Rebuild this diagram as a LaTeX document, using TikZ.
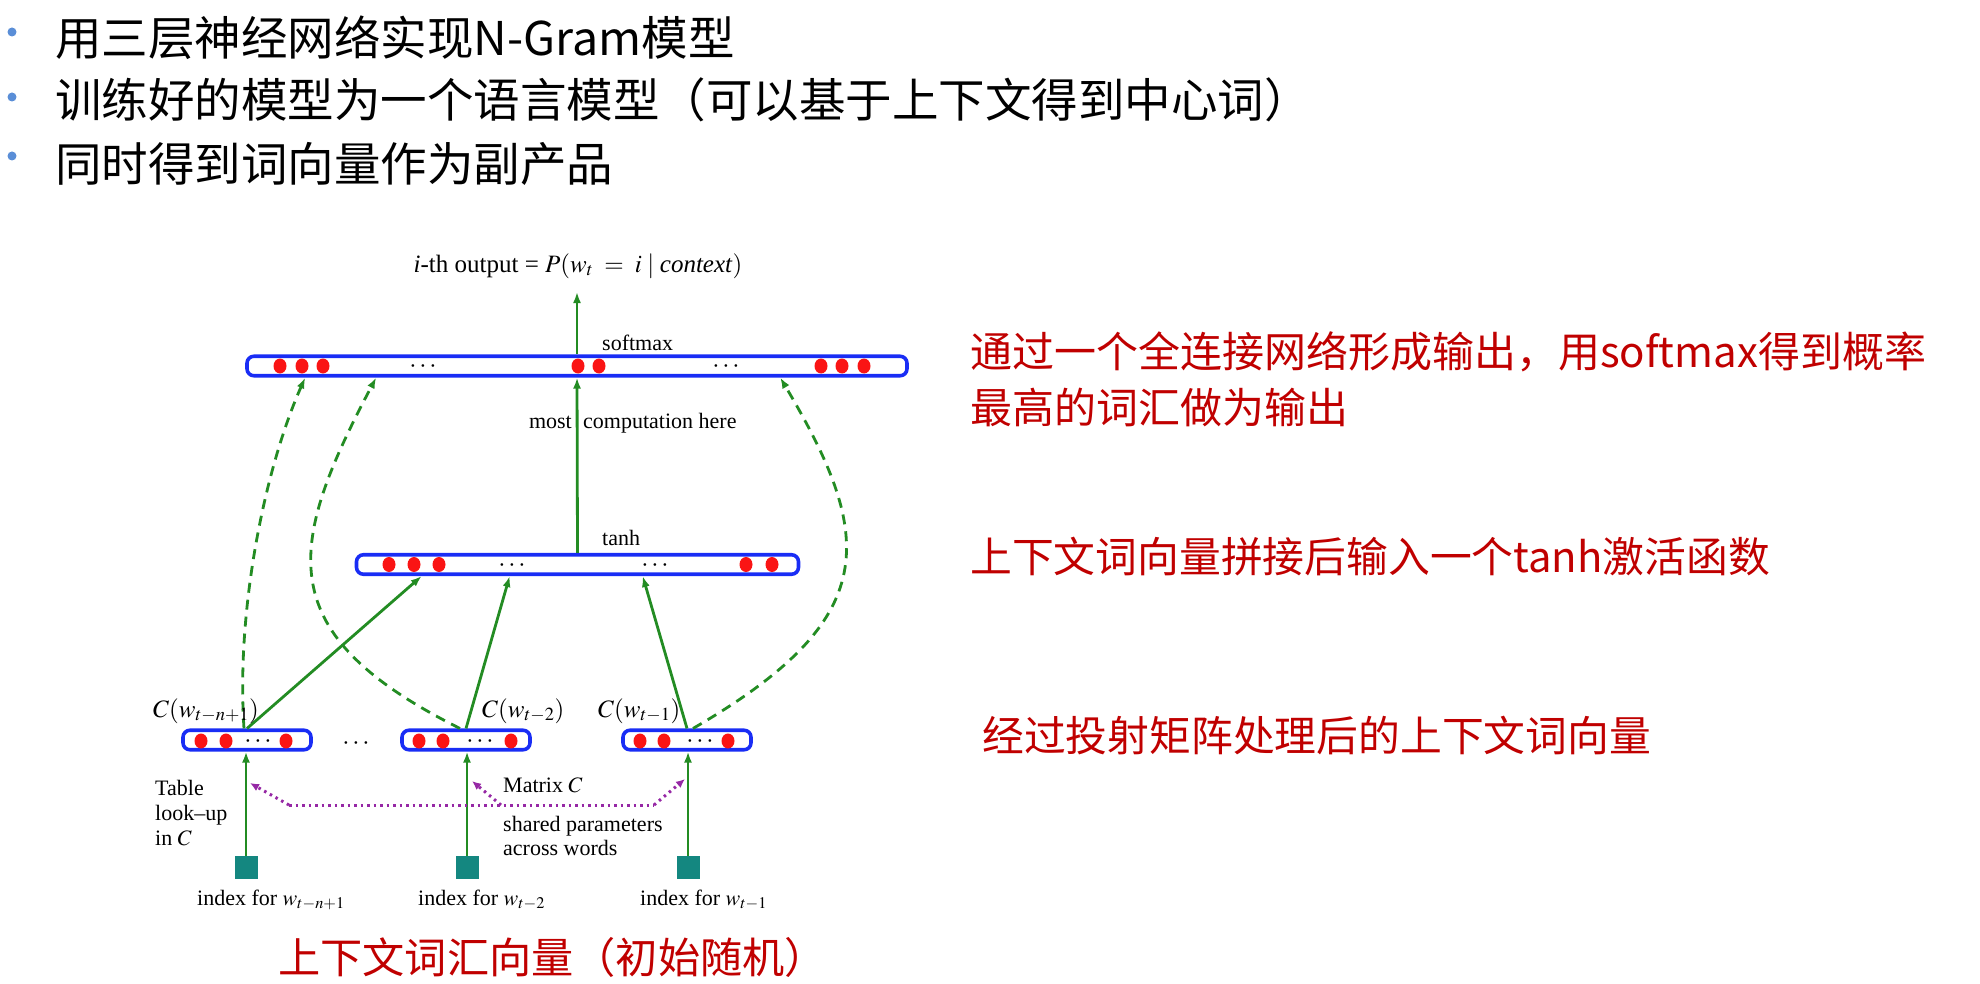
\documentclass[tikz,border=0pt]{standalone}
\usepackage{mathptmx}
\usepackage{fontspec}
\setmainfont{Liberation Serif}
\newfontfamily\cjk{Noto Sans CJK SC}
\usetikzlibrary{arrows.meta,calc}

\definecolor{netblue}{RGB}{25,45,245}
\definecolor{netgreen}{RGB}{35,140,35}
\definecolor{dotred}{RGB}{250,20,20}
\definecolor{idxteal}{RGB}{20,135,128}
\definecolor{sharepurple}{RGB}{150,40,165}
\definecolor{notered}{RGB}{192,0,0}
\definecolor{bulletblue}{RGB}{90,142,215}

% one red unit inside a layer
\newcommand\unitdot[2]{\fill[dotred] (#1,#2) ellipse (6.5pt and 7.5pt);}

\tikzset{
  layer/.style={draw=netblue, line width=3.6pt, rounded corners=7pt,
    inner sep=0pt, minimum height=19.5pt},
  garrow/.style={draw=netgreen, line width=2.8pt, -{Latex[length=11pt,width=8pt]}},
  gdash/.style={garrow, dash pattern=on 10pt off 7pt},
  share/.style={draw=sharepurple, line width=3pt, dash pattern=on 2.5pt off 4pt},
  sharetip/.style={-{Latex[length=9pt,width=8pt]}},
  lbl/.style={font=\fontsize{22}{24}\selectfont, inner sep=0pt},
  clbl/.style={font=\fontsize{25}{28}\selectfont, inner sep=0pt},
  ell/.style={font=\fontsize{26}{28}\selectfont, inner sep=0pt, anchor=base},
  idxsq/.style={fill=idxteal, minimum size=23pt, inner sep=0pt},
  bullettext/.style={font=\cjk\fontsize{46.5}{54}\selectfont, inner sep=0pt, anchor=west},
  note/.style={font=\cjk\fontsize{42}{56}\selectfont, text=notered, inner sep=0pt,
    anchor=west, align=left},
}

\begin{document}
\begin{tikzpicture}[x=1pt,y=-1pt]
\useasboundingbox (0,0) rectangle (1980,984);

% bullet list
\foreach \yy in {32,97,156} \fill[bulletblue] (12,\yy) circle (4.5pt);
\node[bullettext] (b1) at (55,38) {用三层神经网络实现N-Gram模型};
\node[bullettext] (b2) at (55,100) {训练好的模型为一个语言模型（可以基于上下文得到中心词）};
\node[bullettext] (b3) at (55,164) {同时得到词向量作为副产品};

% layers
\node[layer, minimum width=660pt] (soft) at (577,366) {};
\node[layer, minimum width=442pt] (hid) at (577.5,564.5) {};
\node[layer, minimum width=128pt] (c1) at (247,740) {};
\node[layer, minimum width=128pt] (c2) at (466,740) {};
\node[layer, minimum width=128pt] (c3) at (687,740) {};

% units of the softmax layer
\foreach \xx in {280,302,323,578,599,821,842,864} {\unitdot{\xx}{366}}
\node[ell] (se1) at (423,372.5) {$\cdots$};
\node[ell] (se2) at (726,372.5) {$\cdots$};
% units of the tanh layer
\foreach \xx in {389,414,439,746,772} {\unitdot{\xx}{564.5}}
\node[ell] (he1) at (512,571) {$\cdots$};
\node[ell] (he2) at (655,571) {$\cdots$};
% units of the three word feature vectors
\foreach \xx in {201,226,286,419,443,511,640,664,728} {\unitdot{\xx}{741}}
\node[ell] (ce1) at (258,747.5) {$\cdots$};
\node[ell] (ce2) at (480,747.5) {$\cdots$};
\node[ell] (ce3) at (700,747.5) {$\cdots$};
\node[ell] (cgap) at (356,749.5) {$\cdots$};

% output
\node[font=\fontsize{25}{28}\selectfont, inner sep=0pt] (outtxt) at (578,266)
  {\textit{i}-th output = $P(w_t\;=\;i\;|\;$\textit{context}$)$};
\coordinate (outtip) at (577,292);
\draw[garrow] (soft.north) -- (outtip);
\node[lbl, anchor=base west] (smx) at (602,350) {softmax};

% hidden to output
\draw[garrow] (hid.north) -- (soft.south);
\node[lbl, anchor=base east] (most) at (572,428) {most};
\node[lbl, anchor=base west] (comp) at (583,428) {computation here};
\node[lbl, anchor=base west] (tanhl) at (602,545) {tanh};

% feature vectors to hidden layer
\draw[garrow] (c1.north) -- ($(hid.south west)+(67,0)$);
\draw[garrow] (c2.north) -- ($(hid.south west)+(155,0)$);
\draw[garrow] (c3.north) -- ($(hid.south west)+(288,0)$);

% direct connections to the output layer
\draw[gdash] ($(c1.north)+(-3,0)$) .. controls +(-8,-120) and +(-40,90) .. ($(soft.south west)+(60,0)$);
\draw[gdash] ($(c2.north)+(-6,0)$) .. controls +(-190,-95) and +(-90,170) .. ($(soft.south west)+(131,0)$);
\draw[gdash] ($(c3.north)+(6,0)$) .. controls +(190,-110) and +(95,160) .. ($(soft.south west)+(535,0)$);

% labels of the feature vectors
\node[clbl, anchor=base west] (lc1) at (153,717) {$C(w_{t-n+1})$};
\node[clbl, anchor=base west] (lc2) at (482,717) {$C(w_{t-2})$};
\node[clbl, anchor=base west] (lc3) at (598,717) {$C(w_{t-1})$};

% word indices and table look-up
\node[idxsq] (s1) at (246,867.5) {};
\node[idxsq] (s2) at (467,867.5) {};
\node[idxsq] (s3) at (688,867.5) {};
\draw[garrow] (s1.north) -- (s1.north |- c1.south);
\draw[garrow] (s2.north) -- (s2.north |- c2.south);
\draw[garrow] (s3.north) -- (s3.north |- c3.south);
\node[lbl, anchor=base west] (i1) at (197,905) {index for $w_{t-n+1}$};
\node[lbl, anchor=base west] (i2) at (418,905) {index for $w_{t-2}$};
\node[lbl, anchor=base west] (i3) at (640,905) {index for $w_{t-1}$};

% shared matrix C
\coordinate (pl) at (289,805);
\coordinate (pm) at (501,805);
\coordinate (pr) at (654,805);
\coordinate (tl) at (250,783);
\coordinate (tm) at (472,781);
\coordinate (tr) at (685,779);
\draw[share, sharetip] (pl) -- (tl);
\draw[share] (pl) -- (pr);
\draw[share, sharetip] (pr) -- (tr);
\draw[share, sharetip] (pm) -- (tm);
\node[lbl, anchor=north west, align=left, font=\fontsize{22}{25}\selectfont] (tab) at (155,780)
  {Table\\ look--up\\ in $C$};
\node[lbl, anchor=base west] (matc) at (503,792) {Matrix $C$};
\node[lbl, anchor=north west, align=left, font=\fontsize{22}{24}\selectfont] (shp) at (503,816)
  {shared parameters\\across words};

% notes
\node[note] (n1) at (970,379) {通过一个全连接网络形成输出，用softmax得到概率\\最高的词汇做为输出};
\node[note, font=\cjk\fontsize{41.8}{56}\selectfont] (n2) at (970,557) {上下文词向量拼接后输入一个tanh激活函数};
\node[note, font=\cjk\fontsize{41.8}{56}\selectfont] (n3) at (982,736) {经过投射矩阵处理后的上下文词向量};
\node[note, font=\cjk\fontsize{42.2}{50}\selectfont] (n4) at (278,957) {上下文词汇向量（初始随机）};
\end{tikzpicture}
\end{document}
